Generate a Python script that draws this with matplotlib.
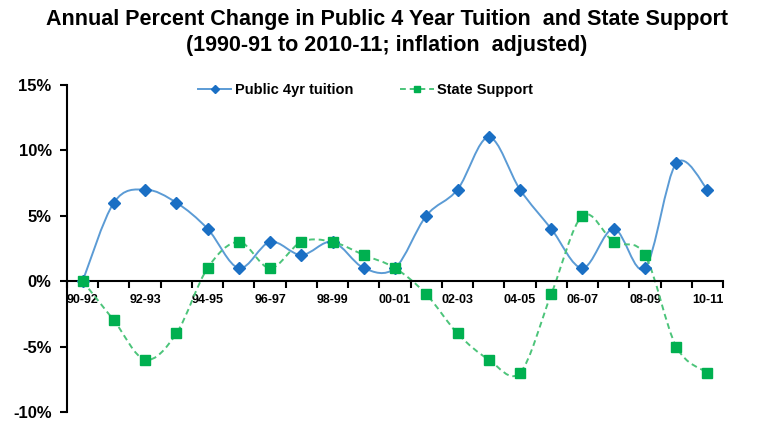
import numpy as np
import matplotlib
matplotlib.use('Agg')
import matplotlib.pyplot as plt
from matplotlib.path import Path
from matplotlib.patches import PathPatch
from matplotlib.lines import Line2D

plt.rcParams['font.family'] = ['Liberation Sans', 'DejaVu Sans']

# data (percent change, inflation adjusted); first label as printed on the chart
Years = ['90-92', '91-92', '92-93', '93-94', '94-95', '95-96', '96-97', '97-98',
         '98-99', '99-00', '00-01', '01-02', '02-03', '03-04', '04-05', '05-06',
         '06-07', '07-08', '08-09', '09-10', '10-11']
Tuition = [0, 6, 7, 6, 4, 1, 3, 2, 3, 1, 1, 5, 7, 11, 7, 4, 1, 4, 1, 9, 7]
StateSupport = [0, -3, -6, -4, 1, 3, 1, 3, 3, 2, 1, -1, -4, -6, -7, -1, 5, 3, 2, -5, -7]
YTicks = [-10, -5, 0, 5, 10, 15]

TuitionLine = '#5B9BD5'
TuitionMarker = '#1A6FC4'
StateLine = '#4CC47A'
StateMarker = '#00B050'


def SmoothPath(x, y):
    # bezier path through the points, like excel's smoothed line
    pts = np.column_stack((x, y)).astype(float)
    ext = np.vstack((pts[0], pts, pts[-1]))
    verts = [pts[0]]
    codes = [Path.MOVETO]
    for i in range(len(pts) - 1):
        p0, p1, p2, p3 = ext[i], ext[i + 1], ext[i + 2], ext[i + 3]
        verts += [p1 + (p2 - p0) / 6, p2 - (p3 - p1) / 6, p2]
        codes += [Path.CURVE4] * 3
    return Path(verts, codes)


fig = plt.figure(figsize=(7.73, 4.21), dpi=100)
ax = fig.add_axes([0.0867, 0.0214, 0.8487, 0.777])
X = np.arange(len(Years))

ax.add_patch(PathPatch(SmoothPath(X, Tuition), fill=False, edgecolor=TuitionLine, lw=1.4, zorder=2))
ax.add_patch(PathPatch(SmoothPath(X, StateSupport), fill=False, edgecolor=StateLine, lw=1.4,
                       linestyle=(0, (3, 2)), zorder=2))
ax.plot(X, Tuition, linestyle='none', marker='D', markersize=6.5, color=TuitionMarker, zorder=3)
ax.plot(X, StateSupport, linestyle='none', marker='s', markersize=7.5, color=StateMarker, zorder=3)

ax.set_xlim(-0.5, len(Years) - 0.5)
ax.set_ylim(-10, 15)
ax.spines['top'].set_visible(False)
ax.spines['right'].set_visible(False)
ax.spines['bottom'].set_position(('data', 0))
ax.spines['bottom'].set_linewidth(1.5)
ax.spines['left'].set_linewidth(1.5)

ax.set_yticks(YTicks)
ax.set_yticklabels(['%d%%' % v for v in YTicks], fontsize=12, fontweight='bold')
ax.tick_params(axis='y', direction='out', length=5, width=1.5, pad=6)

ax.set_xticks(X[::2])
ax.set_xticklabels(Years[::2], fontsize=9, fontweight='bold')
ax.set_xticks(np.arange(-0.5, len(Years)), minor=True)
ax.tick_params(axis='x', which='major', length=0, pad=9)
ax.tick_params(axis='x', which='minor', direction='out', length=5, width=1.5)

Handles = [Line2D([], [], color=TuitionLine, lw=1.4, marker='D', markersize=4,
                  markerfacecolor=TuitionMarker, markeredgecolor=TuitionMarker),
           Line2D([], [], color=StateLine, lw=1.4, linestyle=(0, (3, 2)), marker='s', markersize=5,
                  markerfacecolor=StateMarker, markeredgecolor=StateMarker)]
ax.legend(Handles, ['Public 4yr tuition', 'State Support'], loc='upper center',
          bbox_to_anchor=(0.455, 1.047), ncol=2, frameon=False, handlelength=2.3,
          handletextpad=0.25, columnspacing=3.2, prop={'size': 10.5, 'weight': 'bold'})

fig.text(0.5, 0.922, 'Annual Percent Change in Public 4 Year Tuition  and State Support\n'
         '(1990-91 to 2010-11; inflation  adjusted)', ha='center', va='center',
         fontsize=15.5, fontweight='bold', linespacing=1.3)

fig.savefig('out.png', dpi=100)
